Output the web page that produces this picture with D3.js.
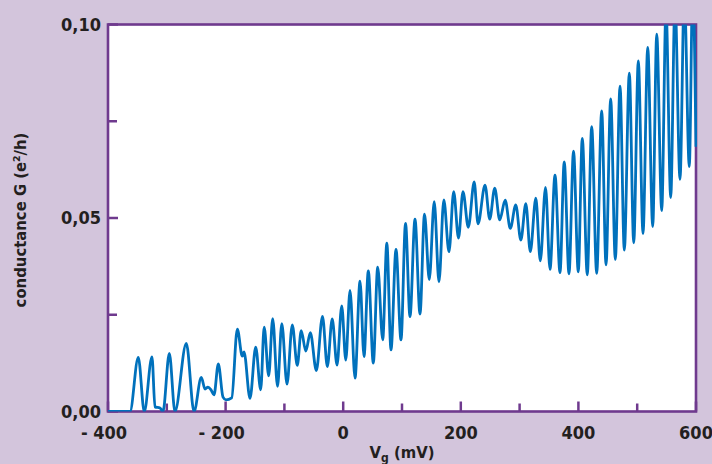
<!DOCTYPE html>
<html>
<head>
<meta charset="utf-8">
<script src="https://cdn.jsdelivr.net/npm/d3@7"></script>
<style>
    body { margin: 0; background: #d3c5dc; }
    svg { display: block; }
    .tick-label { font-family: "DejaVu Sans Condensed", "DejaVu Sans", sans-serif; font-weight: bold; font-size: 18px; fill: #231f20; }
    .axis-title { font-family: "DejaVu Sans Condensed", "DejaVu Sans", sans-serif; font-weight: bold; font-size: 16.5px; fill: #231f20; }
</style>
</head>
<body>
<div id="chart"></div>
<script>
// gate voltage (mV) at the peaks / valleys
const vg = [-400, -362.6, -348.5, -338.3, -325.2, -320.1, -311.6, -306.5, -295.7, -286.1,
    -266.8, -253.7, -241.3, -235, -230, -224.8, -219.7, -212.4, -204.4, -199.3,
    -189.6, -180.1, -171.6, -168.7, -158.5, -148.8, -140.3, -134.4, -126.7, -119.9,
    -111.7, -104.4, -95.6, -86.6, -78.1, -71.4, -63.6, -55.9, -45.7, -35.2,
    -27, -18.7, -10.5, -2.5, 4.4, 11.6, 20.1, 28.6, 35.4, 42.7,
    51.2, 58.7, 67.2, 74.2, 81.3, 89.8, 98.3, 106, 113.6, 122.1,
    130.6, 138.3, 146.4, 154.8, 162.9, 171.1, 179.9, 187.9, 196.1, 203.7,
    212.8, 222.8, 229.3, 241.2, 249.2, 257.7, 266.2, 275.5, 284.2, 293.5,
    302.1, 310.6, 318.2, 327.6, 335.2, 344.1, 351.7, 360.2, 368.7, 375.9,
    384, 391.7, 399.8, 406.6, 415.1, 422.6, 431.1, 439.6, 447, 454.9,
    462.8, 470.8, 478.1, 486.6, 494.1, 501.9, 509.9, 517.9, 526.4, 533.2,
    541.7, 549, 557, 564.3, 572.8, 580.1, 588.6, 594.4, 600];

// conductance G (e²/h)
const cond = [0, 0, 0.0140, 0, 0.0141, 0.0012, 0.0009, 0, 0.0150, 0,
    0.0176, 0, 0.0088, 0.0058, 0.0063, 0.0056, 0.0043, 0.0123, 0.0037, 0.0030,
    0.0035, 0.0213, 0.0143, 0.0154, 0.0034, 0.0166, 0.0056, 0.0218, 0.0092, 0.0240,
    0.0065, 0.0227, 0.0071, 0.0224, 0.0119, 0.0209, 0.0156, 0.0204, 0.0106, 0.0246,
    0.0116, 0.0239, 0.0120, 0.0273, 0.0133, 0.0313, 0.0086, 0.0337, 0.0142, 0.0363,
    0.0125, 0.0373, 0.0185, 0.0435, 0.0159, 0.0419, 0.0185, 0.0486, 0.0245, 0.0497,
    0.0252, 0.0510, 0.0341, 0.0542, 0.0335, 0.0547, 0.0413, 0.0568, 0.0448, 0.0568,
    0.0476, 0.0593, 0.0485, 0.0585, 0.0497, 0.0577, 0.0495, 0.0546, 0.0473, 0.0534,
    0.0443, 0.0537, 0.0413, 0.0551, 0.0389, 0.0579, 0.0367, 0.0611, 0.0359, 0.0645,
    0.0356, 0.0673, 0.0361, 0.0706, 0.0353, 0.0736, 0.0357, 0.0777, 0.0379, 0.0808,
    0.0393, 0.0841, 0.0417, 0.0874, 0.0436, 0.0906, 0.0460, 0.0941, 0.0478, 0.0975,
    0.0519, 0.104, 0.0553, 0.106, 0.0600, 0.108, 0.0633, 0.110, 0.0684];

const xTicks = [-400, -300, -200, -100, 0, 100, 200, 300, 400, 500, 600];
const xLabels = [-400, -200, 0, 200, 400, 600];
const yTicks = [0, 0.025, 0.05, 0.075, 0.1];
const yLabels = [0, 0.05, 0.1];

function draw() {
    const width = 712;
    const height = 464;
    const left = 108, right = 696, top = 24.5, bottom = 411.5;
    const purple = "#6f3a8e";

    const data = vg.map((v, i) => ({ v: v, g: cond[i] }));

    let x = d3.scaleLinear().domain([-400, 600]).range([left, right]);
    let y = d3.scaleLinear().domain([0, 0.1]).range([bottom, top]);

    let svg = d3.select("#chart").append("svg")
        .attr("width", width)
        .attr("height", height);

    svg.append("rect")
        .attr("width", width)
        .attr("height", height)
        .attr("fill", "#d3c5dc");

    svg.append("clipPath")
            .attr("id", "plot-clip")
        .append("rect")
            .attr("x", left)
            .attr("y", top)
            .attr("width", right - left + 1)
            .attr("height", bottom - top);

    svg.append("rect")
        .attr("x", left)
        .attr("y", top)
        .attr("width", right - left)
        .attr("height", bottom - top)
        .attr("fill", "#fff");

    // inward ticks
    svg.selectAll("line.xtick")
        .data(xTicks)
        .enter()
        .append("line")
        .attr("class", "xtick")
        .attr("x1", d => x(d))
        .attr("x2", d => x(d))
        .attr("y1", bottom)
        .attr("y2", d => bottom - (xLabels.includes(d) ? 10 : 8))
        .attr("stroke", purple)
        .attr("stroke-width", 2.5);

    svg.selectAll("line.ytick")
        .data(yTicks)
        .enter()
        .append("line")
        .attr("class", "ytick")
        .attr("x1", left)
        .attr("x2", d => left + (yLabels.includes(d) ? 10 : 9))
        .attr("y1", d => y(d))
        .attr("y2", d => y(d))
        .attr("stroke", purple)
        .attr("stroke-width", 2.5);

    svg.append("rect")
        .attr("x", left)
        .attr("y", top)
        .attr("width", right - left)
        .attr("height", bottom - top)
        .attr("fill", "none")
        .attr("stroke", purple)
        .attr("stroke-width", 2.6);

    let line = d3.line()
        .x(d => x(d.v))
        .y(d => y(d.g))
        .curve(d3.curveMonotoneX);

    svg.append("path")
        .datum(data)
        .attr("d", line)
        .attr("clip-path", "url(#plot-clip)")
        .attr("fill", "none")
        .attr("stroke", "#0071bc")
        .attr("stroke-width", 2.8)
        .attr("stroke-linejoin", "round");

    const fmtY = d => d3.format(".2f")(d).replace(".", ",");
    const fmtX = d => d < 0 ? "- " + Math.abs(d) : String(d);

    svg.selectAll("text.ylab")
        .data(yLabels)
        .enter()
        .append("text")
        .attr("class", "tick-label")
        .attr("x", left - 7)
        .attr("y", d => y(d))
        .attr("dy", "0.36em")
        .attr("text-anchor", "end")
        .text(fmtY);

    svg.selectAll("text.xlab")
        .data(xLabels)
        .enter()
        .append("text")
        .attr("class", "tick-label")
        .attr("x", d => x(d) - (d < 0 ? 4 : 0))
        .attr("y", 439)
        .attr("text-anchor", "middle")
        .text(fmtX);

    svg.append("text")
        .attr("class", "axis-title")
        .attr("transform", `translate(26, 220) rotate(-90)`)
        .attr("text-anchor", "middle")
        .text("conductance G (e²/h)");

    let xt = svg.append("text")
        .attr("class", "axis-title")
        .attr("x", (left + right) / 2)
        .attr("y", 458)
        .attr("text-anchor", "middle");
    xt.append("tspan").text("V");
    xt.append("tspan").attr("font-size", "12px").attr("dy", 4).text("g");
    xt.append("tspan").attr("dy", -4).text(" (mV)");
}
draw();
</script>
</body>
</html>
